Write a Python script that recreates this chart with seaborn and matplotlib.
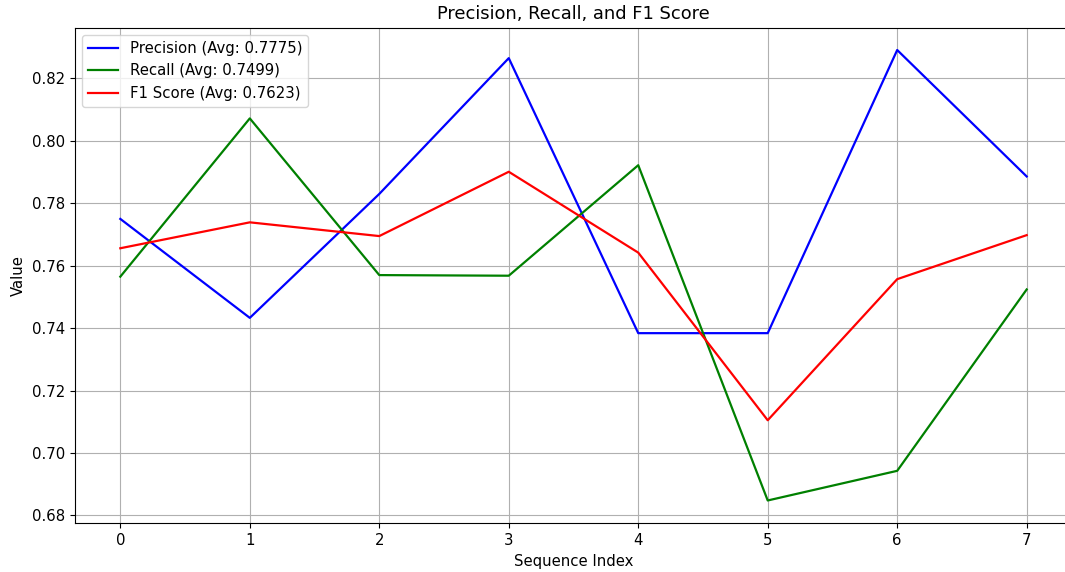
import matplotlib
matplotlib.use("Agg")
import matplotlib.pyplot as plt
import seaborn as sns
import pandas as pd

seq_index = [0, 1, 2, 3, 4, 5, 6, 7]
precision = [0.7750, 0.7433, 0.7830, 0.8265, 0.7384, 0.7384, 0.8291, 0.7886]
recall = [0.7565, 0.8072, 0.7570, 0.7568, 0.7922, 0.6848, 0.6943, 0.7524]
f1 = [0.7656, 0.7739, 0.7695, 0.7901, 0.7642, 0.7105, 0.7557, 0.7698]
labels = ["Precision (Avg: 0.7775)", "Recall (Avg: 0.7499)", "F1 Score (Avg: 0.7623)"]
colors = ["blue", "green", "red"]

plt.rcParams["font.size"] = 10.7
plt.rcParams["axes.titlesize"] = 12.85
plt.rcParams["xtick.major.size"] = 3.7
plt.rcParams["ytick.major.size"] = 3.7

fig = plt.figure(figsize=(10.65, 5.72), dpi=100)
ax = fig.add_axes([75/1065, 1-523/572, (1072-75)/1065, (523-27.5)/572])

for vals, lab, c in zip([precision, recall, f1], labels, colors):
    df = pd.DataFrame({"x": seq_index, "y": vals})
    sns.lineplot(data=df, x="x", y="y", ax=ax, color=c, label=lab, linewidth=1.6)

ax.set_title("Precision, Recall, and F1 Score")
ax.set_xlabel("Sequence Index")
ax.set_ylabel("Value")
ax.grid(True)
ax.spines["right"].set_visible(False)
ax.legend(loc="upper left")
fig.savefig("out.png", dpi=100)
